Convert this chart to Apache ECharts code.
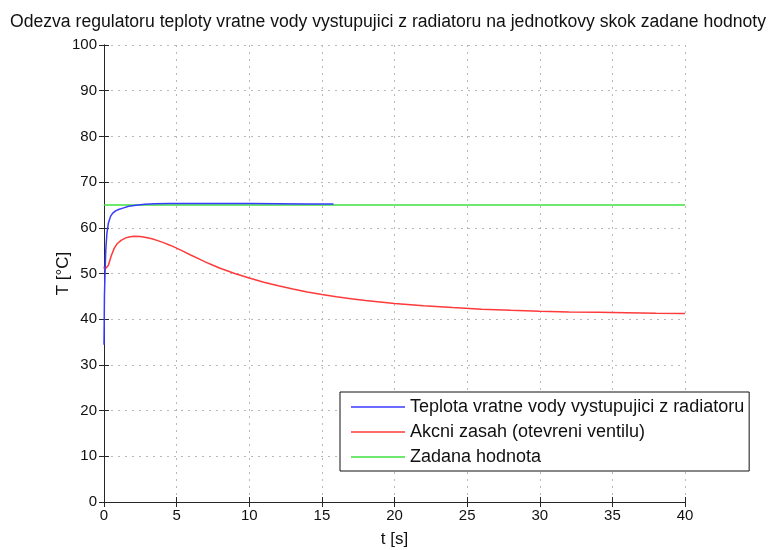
<!DOCTYPE html>
<html>
<head>
<meta charset="utf-8">
<script src="https://cdn.jsdelivr.net/npm/echarts@6/dist/echarts.min.js"></script>
<style>
  html, body { margin: 0; padding: 0; background: #fff; }
  #chart { width: 776px; height: 550px; }
</style>
</head>
<body>
<div id="chart"></div>
<script>
// Return water temperature (blue), control action (red) and setpoint (green)
const titleText = 'Odezva regulatoru teploty vratne vody vystupujici z radiatoru na jednotkovy skok zadane hodnoty';
const seriesNames = [
  'Teplota vratne vody vystupujici z radiatoru',
  'Akcni zasah (otevreni ventilu)',
  'Zadana hodnota'
];

const tempTime = [0, 0.03, 0.07, 0.12, 0.2, 0.3, 0.45, 0.6, 0.8, 1.0, 1.3, 1.7, 2.2, 2.8, 3.5, 4.5, 6, 8, 10, 12, 14, 15.8];
const tempValue = [34.4, 45, 50, 55, 58.8, 61, 62.5, 63.2, 63.7, 64.0, 64.3, 64.7, 64.95, 65.15, 65.25, 65.3, 65.3, 65.3, 65.3, 65.25, 65.2, 65.2];

const actTime = [0, 0.05, 0.15, 0.3, 0.5, 0.7, 0.9, 1.2, 1.5, 1.8, 2.1, 2.5, 2.9, 3.3, 3.7, 4.1, 4.5, 5, 5.5, 6, 6.5, 7, 7.5, 8, 9, 10, 11, 12, 13, 14, 15, 16, 17, 18, 20, 22, 24, 26, 28, 30, 32, 34, 36, 38, 40];
const actValue = [51.5, 50.9, 50.6, 51.8, 53.9, 55.5, 56.5, 57.3, 57.8, 58.05, 58.15, 58.1, 57.9, 57.6, 57.2, 56.75, 56.25, 55.55, 54.8, 54.0, 53.25, 52.5, 51.8, 51.15, 50.0, 49.0, 48.1, 47.3, 46.6, 45.95, 45.4, 44.9, 44.5, 44.1, 43.45, 42.95, 42.55, 42.2, 41.95, 41.75, 41.6, 41.5, 41.4, 41.3, 41.25];

const setTime = [0, 40];
const setValue = [65, 65];

const xTicks = { min: 0, max: 40, interval: 5 };
const yTicks = { min: 0, max: 100, interval: 10 };

const zip = (a, b) => a.map((v, i) => [v, b[i]]);
const font = 'Liberation Sans';

const gridLines = {
  show: true,
  lineStyle: { color: '#b8b8b8', width: 1, type: [2, 5] }
};
const frameLine = { show: true, lineStyle: { color: '#262626', width: 1 } };
const inTicks = { show: true, inside: true, length: 5, lineStyle: { color: '#262626' } };

const chart = echarts.init(document.getElementById('chart'), null, { renderer: 'canvas' });
chart.setOption({
  animation: false,
  backgroundColor: '#fff',
  title: {
    text: titleText,
    left: 'center',
    top: 8,
    textStyle: { fontFamily: font, fontSize: 17.6, fontWeight: 'normal', color: '#111' }
  },
  grid: { left: 104, right: 91, top: 45, bottom: 48, containLabel: false, outerBoundsMode: 'none' },
  xAxis: [
    Object.assign({
      type: 'value', position: 'bottom',
      name: 't [s]', nameLocation: 'middle', nameGap: 29, nameMoveOverlap: false,
      nameTextStyle: { fontFamily: font, fontSize: 17, color: '#111' },
      axisLine: frameLine, axisTick: inTicks, splitLine: gridLines,
      axisLabel: { fontFamily: font, fontSize: 15, color: '#111', margin: 6 }
    }, xTicks),
    Object.assign({
      type: 'value', position: 'top',
      axisLine: frameLine, axisTick: inTicks, splitLine: { show: false },
      axisLabel: { show: false }
    }, xTicks)
  ],
  yAxis: [
    Object.assign({
      type: 'value', position: 'left',
      name: 'T [°C]', nameLocation: 'middle', nameGap: 32, nameMoveOverlap: false,
      nameTextStyle: { fontFamily: font, fontSize: 17, color: '#111' },
      axisLine: frameLine, axisTick: inTicks, splitLine: gridLines,
      axisLabel: { fontFamily: font, fontSize: 15, color: '#111', margin: 7 }
    }, yTicks),
    Object.assign({
      type: 'value', position: 'right',
      axisLine: frameLine, axisTick: inTicks, splitLine: { show: false },
      axisLabel: { show: false }
    }, yTicks)
  ],
  legend: {
    orient: 'vertical',
    left: 340,
    top: 392,
    icon: 'rect',
    itemWidth: 54,
    itemHeight: 1.5,
    itemGap: 7,
    padding: [6, 5, 5, 11],
    backgroundColor: '#fff',
    borderColor: '#111',
    borderWidth: 1,
    borderRadius: 0,
    textStyle: { fontFamily: font, fontSize: 18, lineHeight: 18, color: '#111' },
    data: seriesNames
  },
  series: [
    {
      name: seriesNames[0], type: 'line', symbol: 'none',
      data: zip(tempTime, tempValue), z: 4,
      lineStyle: { color: '#3a3aff', width: 1.5 }, itemStyle: { color: '#3a3aff' }
    },
    {
      name: seriesNames[1], type: 'line', symbol: 'none',
      data: zip(actTime, actValue), z: 3,
      lineStyle: { color: '#ff3a3a', width: 1.5 }, itemStyle: { color: '#ff3a3a' }
    },
    {
      name: seriesNames[2], type: 'line', symbol: 'none',
      data: zip(setTime, setValue), z: 3,
      lineStyle: { color: '#3ee03e', width: 1.5 }, itemStyle: { color: '#3ee03e' }
    }
  ]
});
</script>
</body>
</html>
